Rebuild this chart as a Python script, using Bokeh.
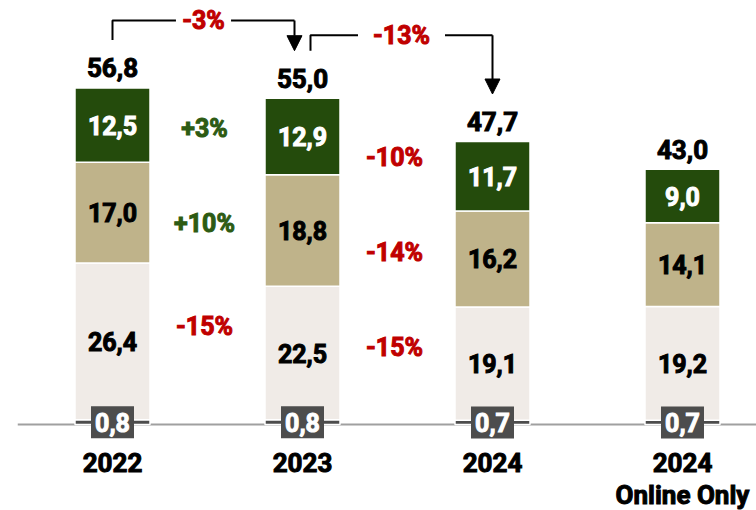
import numpy as np
from bokeh.plotting import figure
from bokeh.models import ColumnDataSource, Range1d, FixedTicker, Span, Arrow, NormalHead
from bokeh.core.properties import value
from bokeh.embed import file_html
from bokeh.resources import INLINE

# ---------------- data ----------------
categories = ["2022", "2023", "2024", "2024\nOnline Only"]
base = [0.8, 0.8, 0.7, 0.7]
low = [26.4, 22.5, 19.1, 19.2]
mid = [17.0, 18.8, 16.2, 14.1]
top = [12.5, 12.9, 11.7, 9.0]
totals = [56.8, 55.0, 47.7, 43.0]

change_labels = ["+3%", "+10%", "-15%", "-10%", "-14%", "-15%"]
change_pair = [0, 0, 0, 1, 1, 1]
change_y = [49.9, 33.9, 16.6, 45.0, 29.0, 13.0]

arrow_from = [0, 1]
arrow_to = [1, 2]
arrow_labels = ["-3%", "-13%"]
arrow_level = [68.1, 65.6]
arrow_gap = [0.145, 0.229]

# ---------------- styles ----------------
FONT_NAME = "Roboto"
FONT = value(FONT_NAME)
C_BASE = "#4d4d4d"
C_LOW = "#f0ebe7"
C_MID = "#bfb38a"
C_TOP = "#244b0c"
RED = "#c00000"
GREEN = "#2d5b13"


def fmt(v):
    return f"{v:.1f}".replace(".", ",")


x = np.arange(len(categories), dtype=float)
src = ColumnDataSource(dict(x=x, base=base, low=low, mid=mid, top=top))

p = figure(frame_width=739, frame_height=439,
           min_border_left=17, min_border_right=0, min_border_top=0, min_border_bottom=0,
           x_range=Range1d(-0.5, 3.3895), y_range=Range1d(-2.528, 71.46),
           y_axis_location=None, output_backend="svg", toolbar_location=None)
p.outline_line_color = None
p.grid.visible = False
p.background_fill_color = "white"
p.border_fill_color = "white"

# baseline
p.add_layout(Span(location=0, dimension="width", line_color="#a0a0a0", line_width=2, level="underlay"))

# stacked bars
p.vbar_stack(["base", "low", "mid", "top"], x="x", width=75 / 190, source=src,
             color=[C_BASE, C_LOW, C_MID, C_TOP], line_color="white", line_width=1.5)

# x axis labels
ax = p.xaxis[0]
ax.ticker = FixedTicker(ticks=list(range(len(categories))))
ax.major_label_overrides = {i: c for i, c in enumerate(categories)}
ax.axis_line_color = None
ax.major_tick_line_color = None
ax.minor_tick_line_color = None
ax.major_label_standoff = 2
ax.major_label_text_font = FONT_NAME
ax.major_label_text_font_style = "bold"
ax.major_label_text_font_size = "26px"
ax.major_label_text_color = "black"
ax.major_label_text_outline_color = "black"
ax.major_label_text_line_height = 1.08

# segment labels
b = np.array(base); l = np.array(low); m = np.array(mid); t = np.array(top)
seg_cols = ["black"] * 4 + ["black"] * 4 + ["white"] * 4
seg_src = ColumnDataSource(dict(
    x=np.concatenate([x, x, x]),
    y=np.concatenate([b + l / 2, b + l + m / 2, b + l + m + t / 2]),
    txt=[fmt(v) for v in low] + [fmt(v) for v in mid] + [fmt(v) for v in top],
    col=seg_cols,
))
p.text("x", "y", text="txt", source=seg_src, text_color="col", text_font=FONT,
       text_font_style="bold", text_font_size="25px", text_align="center",
       text_baseline="middle", text_outline_color="col")

# base boxes
base_src = ColumnDataSource(dict(x=x, y=b / 2, txt=[fmt(v) for v in base]))
p.rect("x", "y", width=43, height=32, width_units="screen", height_units="screen",
       source=base_src, fill_color=C_BASE, line_color=None)
p.text("x", "y", text="txt", source=base_src, text_color="white", text_font=FONT,
       text_font_style="bold", text_font_size="25px", text_align="center",
       text_baseline="middle", text_outline_color="white")

# totals
tot_src = ColumnDataSource(dict(x=x, y=totals, txt=[fmt(v) for v in totals]))
p.text("x", "y", text="txt", source=tot_src, text_color="black", text_font=FONT,
       text_font_style="bold", text_font_size="26px", text_align="center",
       text_baseline="middle", y_offset=-20, text_outline_color="black")

# change labels between bars
ch_cols = [GREEN if s.startswith("+") else RED for s in change_labels]
ch_src = ColumnDataSource(dict(
    x=[pp + 0.5 for pp in change_pair], y=change_y, txt=change_labels, col=ch_cols))
p.text("x", "y", text="txt", source=ch_src, text_color="col", text_font=FONT,
       text_font_style="bold", text_font_size="25px", text_align="center",
       text_baseline="middle", x_offset=-3, text_outline_color="col")

# arrows between totals
shift = 8 / 190
gap_above = 8.0
xs, ys = [], []
lab_x, lab_y = [], []
for k, (i, j) in enumerate(zip(arrow_from, arrow_to)):
    x0 = i + (shift if k > 0 else 0.0)
    x1 = j - (shift if k == 0 else 0.0)
    y0 = totals[i] + gap_above
    y1 = totals[j] + gap_above
    lev = arrow_level[k]
    xm = (x0 + x1) / 2
    xs.append([x0, x0, xm - arrow_gap[k]]); ys.append([y0, lev, lev])
    xs.append([xm + arrow_gap[k], x1]); ys.append([lev, lev])
    p.add_layout(Arrow(x_start=x1, y_start=lev, x_end=x1, y_end=y1, line_width=2,
                       line_color="black",
                       end=NormalHead(size=15, fill_color="black", line_color="black", line_width=1)))
    lab_x.append(xm); lab_y.append(lev)
p.multi_line(xs, ys, line_color="black", line_width=2)
p.text(lab_x, lab_y, text=arrow_labels, text_color=RED, text_font=FONT,
       text_font_style="bold", text_font_size="25px", text_align="center",
       text_baseline="middle", text_outline_color=RED)

open("out.html", "w").write(file_html(p, INLINE))
